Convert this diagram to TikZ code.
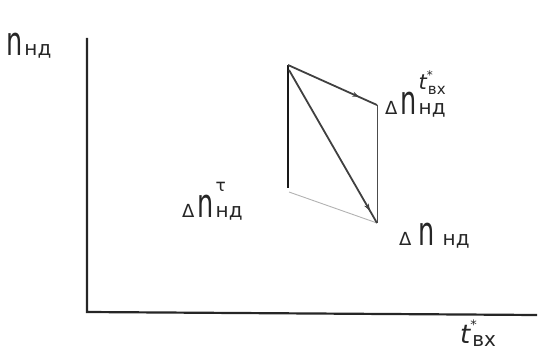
\documentclass[tikz,border=0pt]{standalone}
\usepackage{graphicx}
\usepackage{fontspec}
\setmainfont{DejaVu Sans}
\usetikzlibrary{decorations.markings,arrows.meta}
\newcommand{\bn}{\scalebox{0.8}[1.25]{\fontsize{32}{32}\selectfont n}}
\newcommand{\fsub}{\fontsize{20}{20}\selectfont}
\newcommand{\fdel}{\fontsize{18}{18}\selectfont}
\newcommand{\fsup}{\fontsize{21}{21}\selectfont\itshape}
\newcommand{\fsupsub}{\fontsize{15}{15}\selectfont}
\tikzset{
  axis/.style={line width=2.2pt,draw=black!85},
  thickedge/.style={line width=2.2pt,draw=black!90},
  vecedge/.style={line width=1.8pt,draw=black!75},
  thinedge/.style={line width=0.9pt,draw=black!70},
  faintedge/.style={line width=0.9pt,draw=black!30},
  lbl/.style={inner sep=0pt,anchor=base west,text=black!85},
  midarrow/.style={postaction={decorate},decoration={markings,mark=at position #1 with {\arrow{Stealth[length=7pt,width=5pt]}}}}
}
\begin{document}
\begin{tikzpicture}[x=1pt,y=-1pt]
\useasboundingbox (0,0) rectangle (540,353);
% axes
\coordinate (ytop) at (87,38);
\coordinate (orig) at (87,312);
\coordinate (xend) at (537,315);
\draw[axis] (ytop) -- (orig) -- (xend);
% parallelogram
\coordinate (A) at (288,65);
\coordinate (Ab) at (288,188);
\coordinate (B) at (377,105);
\coordinate (C) at (377,223);
\coordinate (D) at (289,192);
\coordinate (A2) at (289,70);
\draw[thickedge] (A) -- (Ab);
\draw[thinedge] (B) -- (C);
\draw[faintedge] (D) -- (C);
\draw[vecedge,midarrow=0.8] (A) -- (B);
\draw[vecedge,midarrow=0.92] (A2) -- (C);
% labels
\node[lbl] (ly) at (6,56) {\bn\kern2pt\fsub нд};
\node[lbl] (lt) at (385,114) {\fdel Δ\kern3pt\bn\kern2pt\rlap{\raisebox{25pt}{\fsup t\rlap{\raisebox{10pt}{\fontsize{12}{12}\selectfont\upshape *}}\kern1pt\raisebox{-5pt}{\fsupsub\upshape вх}}}\fsub нд};
\node[lbl] (ltau) at (182,217) {\fdel Δ\kern3pt\bn\kern2pt\rlap{\raisebox{26pt}{\fontsize{17}{17}\selectfont τ}}\fsub нд};
\node[lbl] (ln) at (399,245) {\fdel Δ\kern7pt\bn\kern8pt\fsub нд};
\node[lbl] (lx) at (460,343) {\fontsize{26}{26}\selectfont\itshape t\rlap{\raisebox{14pt}{\fontsize{13}{13}\selectfont\upshape *}}\kern2pt\raisebox{-3pt}{\fsub\upshape вх}};
\end{tikzpicture}
\end{document}
